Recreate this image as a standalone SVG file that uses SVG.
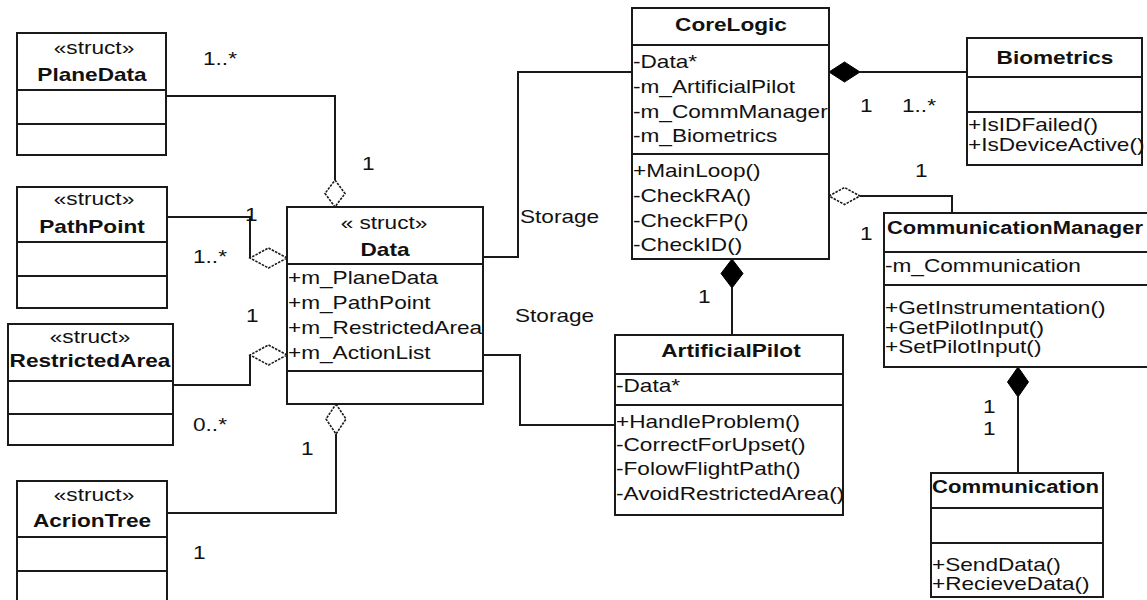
<svg xmlns="http://www.w3.org/2000/svg" width="1147" height="600" viewBox="0 0 1147 600">
  <style>
    .box { fill: #ffffff; stroke: #1a1a1a; stroke-width: 2; }
    .sep { stroke: #1a1a1a; stroke-width: 2; }
    .wire { fill: none; stroke: #1a1a1a; stroke-width: 2; }
    .agg { fill: #ffffff; stroke: #1a1a1a; stroke-width: 1.6; stroke-dasharray: 2.5 1.2; }
    .comp { fill: #000000; stroke: #000000; stroke-width: 1; }
    text { font-family: "Liberation Sans", Arial, sans-serif; font-size: 19px; fill: #111111; }
    .b { font-weight: bold; }
    .m { text-anchor: middle; }
  </style>
  <rect width="1147" height="600" fill="#ffffff"/>

  <!-- connectors -->
  <g id="connectors">
    <!-- PlaneData to Data -->
    <polyline class="wire" points="166,96 335,96 335,180"/>
    <polygon class="agg" points="335,180 345,193.5 335,207 325,193.5"/>
    <!-- PathPoint to Data -->
    <polyline class="wire" points="167,217 250,217 250,258"/>
    <polygon class="agg" points="287,258 268.5,248 250,258 268.5,268"/>
    <!-- RestrictedArea to Data -->
    <polyline class="wire" points="173,385 250,385 250,355"/>
    <polygon class="agg" points="287,355 268.5,345 250,355 268.5,365"/>
    <!-- AcrionTree to Data -->
    <polyline class="wire" points="167,513 336,513 336,434"/>
    <polygon class="agg" points="336,404 346,419 336,434 326,419"/>
    <!-- Storage links -->
    <polyline class="wire" points="483,257 518,257 518,72 632,72"/>
    <polyline class="wire" points="483,355 520,355 520,425 615,425"/>
    <!-- CoreLogic to Biometrics -->
    <line class="wire" x1="860" y1="72" x2="967" y2="72"/>
    <polygon class="comp" points="829,72 844.5,62 860,72 844.5,82"/>
    <!-- CoreLogic to CommunicationManager -->
    <polyline class="wire" points="860,196 952,196 952,213"/>
    <polygon class="agg" points="829,196 844.5,187.5 860,196 844.5,204.5"/>
    <!-- CoreLogic to ArtificialPilot -->
    <line class="wire" x1="732" y1="288" x2="732" y2="335"/>
    <polygon class="comp" points="732,259 743,273.5 732,288 721,273.5"/>
    <!-- CommunicationManager to Communication -->
    <line class="wire" x1="1018" y1="397" x2="1018" y2="473"/>
    <polygon class="comp" points="1018,367 1028.5,382 1018,397 1007.5,382"/>
  </g>

  <!-- multiplicities and role names -->
  <g id="labels">
    <text transform="translate(203 65) scale(1.19 1)">1..*</text>
    <text transform="translate(362 170) scale(1.19 1)">1</text>
    <text transform="translate(245 221) scale(1.19 1)">1</text>
    <text transform="translate(193 263) scale(1.19 1)">1..*</text>
    <text transform="translate(246 322) scale(1.19 1)">1</text>
    <text transform="translate(193 431) scale(1.19 1)">0..*</text>
    <text transform="translate(301 455) scale(1.19 1)">1</text>
    <text transform="translate(193 559) scale(1.19 1)">1</text>
    <text transform="translate(520 223) scale(1.19 1)">Storage</text>
    <text transform="translate(515 322) scale(1.19 1)">Storage</text>
    <text transform="translate(698 303) scale(1.19 1)">1</text>
    <text transform="translate(860 112) scale(1.19 1)">1</text>
    <text transform="translate(902 112) scale(1.19 1)">1..*</text>
    <text transform="translate(915 177) scale(1.19 1)">1</text>
    <text transform="translate(860 240) scale(1.19 1)">1</text>
    <text transform="translate(983 413) scale(1.19 1)">1</text>
    <text transform="translate(983 435) scale(1.19 1)">1</text>
  </g>

  <!-- PlaneData -->
  <g id="PlaneData">
    <rect class="box" x="17" y="33" width="149" height="122"/>
    <line class="sep" x1="17" y1="90" x2="166" y2="90"/>
    <line class="sep" x1="17" y1="124" x2="166" y2="124"/>
    <text class="m" transform="translate(94 54) scale(1.19 1)">«struct»</text>
    <text class="m b" transform="translate(92 81) scale(1.19 1)">PlaneData</text>
  </g>

  <!-- PathPoint -->
  <g id="PathPoint">
    <rect class="box" x="17" y="187" width="150" height="121"/>
    <line class="sep" x1="17" y1="242" x2="167" y2="242"/>
    <line class="sep" x1="17" y1="276" x2="167" y2="276"/>
    <text class="m" transform="translate(94 205) scale(1.19 1)">«struct»</text>
    <text class="m b" transform="translate(92 233) scale(1.19 1)">PathPoint</text>
  </g>

  <!-- RestrictedArea -->
  <g id="RestrictedArea">
    <rect class="box" x="8" y="324" width="165" height="121"/>
    <line class="sep" x1="8" y1="381" x2="173" y2="381"/>
    <line class="sep" x1="8" y1="414" x2="173" y2="414"/>
    <text class="m" transform="translate(90 343) scale(1.19 1)">«struct»</text>
    <text class="m b" transform="translate(90 367) scale(1.19 1)">RestrictedArea</text>
  </g>

  <!-- AcrionTree -->
  <g id="AcrionTree">
    <rect class="box" x="17" y="481" width="150" height="130"/>
    <line class="sep" x1="17" y1="537" x2="167" y2="537"/>
    <line class="sep" x1="17" y1="571" x2="167" y2="571"/>
    <text class="m" transform="translate(94 501) scale(1.19 1)">«struct»</text>
    <text class="m b" transform="translate(92 527) scale(1.19 1)">AcrionTree</text>
  </g>

  <!-- Data -->
  <g id="Data">
    <rect class="box" x="287" y="207" width="196" height="197"/>
    <line class="sep" x1="287" y1="264" x2="483" y2="264"/>
    <line class="sep" x1="287" y1="371" x2="483" y2="371"/>
    <text class="m" transform="translate(384 229) scale(1.19 1)">« struct»</text>
    <text class="m b" transform="translate(385 256) scale(1.19 1)">Data</text>
    <text transform="translate(288 284) scale(1.19 1)">+m_PlaneData</text>
    <text transform="translate(288 309) scale(1.19 1)">+m_PathPoint</text>
    <text transform="translate(288 334) scale(1.19 1)">+m_RestrictedArea</text>
    <text transform="translate(288 359) scale(1.19 1)">+m_ActionList</text>
  </g>

  <!-- CoreLogic -->
  <g id="CoreLogic">
    <rect class="box" x="632" y="8" width="197" height="251"/>
    <line class="sep" x1="632" y1="45" x2="829" y2="45"/>
    <line class="sep" x1="632" y1="154" x2="829" y2="154"/>
    <text class="m b" transform="translate(731 31) scale(1.19 1)">CoreLogic</text>
    <text transform="translate(633 68) scale(1.19 1)">-Data*</text>
    <text transform="translate(633 93) scale(1.19 1)">-m_ArtificialPilot</text>
    <text transform="translate(633 118) scale(1.19 1)">-m_CommManager</text>
    <text transform="translate(633 142) scale(1.19 1)">-m_Biometrics</text>
    <text transform="translate(633 177) scale(1.19 1)">+MainLoop()</text>
    <text transform="translate(633 202) scale(1.19 1)">-CheckRA()</text>
    <text transform="translate(633 227) scale(1.19 1)">-CheckFP()</text>
    <text transform="translate(633 251) scale(1.19 1)">-CheckID()</text>
  </g>

  <!-- Biometrics -->
  <g id="Biometrics">
    <rect class="box" x="967" y="38" width="175" height="127"/>
    <line class="sep" x1="967" y1="77" x2="1142" y2="77"/>
    <line class="sep" x1="967" y1="112" x2="1142" y2="112"/>
    <text class="m b" transform="translate(1055 64) scale(1.19 1)">Biometrics</text>
    <text transform="translate(968 131) scale(1.19 1)">+IsIDFailed()</text>
    <text transform="translate(968 151) scale(1.19 1)">+IsDeviceActive()</text>
  </g>

  <!-- CommunicationManager (box runs past the right edge) -->
  <g id="CommunicationManager">
    <rect class="box" x="884" y="213" width="280" height="154"/>
    <line class="sep" x1="884" y1="252" x2="1164" y2="252"/>
    <line class="sep" x1="884" y1="285" x2="1164" y2="285"/>
    <text class="b" transform="translate(887 234) scale(1.155 1)">CommunicationManager</text>
    <text transform="translate(885 272) scale(1.19 1)">-m_Communication</text>
    <text transform="translate(885 314) scale(1.19 1)">+GetInstrumentation()</text>
    <text transform="translate(885 334) scale(1.19 1)">+GetPilotInput()</text>
    <text transform="translate(885 353) scale(1.19 1)">+SetPilotInput()</text>
  </g>

  <!-- ArtificialPilot -->
  <g id="ArtificialPilot">
    <rect class="box" x="615" y="335" width="228" height="180"/>
    <line class="sep" x1="615" y1="374" x2="843" y2="374"/>
    <line class="sep" x1="615" y1="405" x2="843" y2="405"/>
    <text class="m b" transform="translate(731 357) scale(1.19 1)">ArtificialPilot</text>
    <text transform="translate(616 392) scale(1.19 1)">-Data*</text>
    <text transform="translate(616 428) scale(1.19 1)">+HandleProblem()</text>
    <text transform="translate(616 451) scale(1.19 1)">-CorrectForUpset()</text>
    <text transform="translate(616 475) scale(1.19 1)">-FolowFlightPath()</text>
    <text transform="translate(616 500) scale(1.19 1)">-AvoidRestrictedArea()</text>
  </g>

  <!-- Communication -->
  <g id="Communication">
    <rect class="box" x="931" y="473" width="172" height="124"/>
    <line class="sep" x1="931" y1="508" x2="1103" y2="508"/>
    <line class="sep" x1="931" y1="543" x2="1103" y2="543"/>
    <text class="b" transform="translate(932 493) scale(1.165 1)">Communication</text>
    <text transform="translate(932 571) scale(1.19 1)">+SendData()</text>
    <text transform="translate(932 590) scale(1.19 1)">+RecieveData()</text>
  </g>
</svg>
